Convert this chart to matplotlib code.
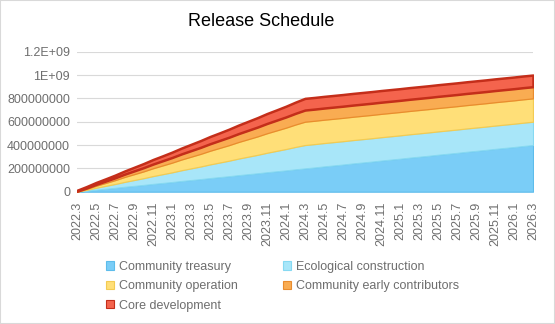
import matplotlib
matplotlib.use("Agg")
import matplotlib.pyplot as plt
from matplotlib.patches import Rectangle, Patch

plt.rcParams["font.family"] = ["Liberation Sans", "DejaVu Sans"]

# Monthly release timeline
months = [
    "2022.3", "2022.4", "2022.5", "2022.6", "2022.7", "2022.8", "2022.9", "2022.10", "2022.11", "2022.12",
    "2023.1", "2023.2", "2023.3", "2023.4", "2023.5", "2023.6", "2023.7", "2023.8", "2023.9", "2023.10",
    "2023.11", "2023.12",
    "2024.1", "2024.2", "2024.3", "2024.4", "2024.5", "2024.6", "2024.7", "2024.8", "2024.9", "2024.10",
    "2024.11", "2024.12",
    "2025.1", "2025.2", "2025.3", "2025.4", "2025.5", "2025.6", "2025.7", "2025.8", "2025.9", "2025.10",
    "2025.11", "2025.12",
    "2026.1", "2026.2", "2026.3",
]

# Cumulative released tokens per allocation, in millions
community_treasury = [
    0, 8, 17, 25, 33, 42, 50, 58, 67, 75, 83, 92, 100, 108, 117, 125, 133, 142, 150, 158,
    167, 175, 183, 192, 200, 208, 217, 225, 233, 242, 250, 258, 267, 275, 283, 292, 300,
    308, 317, 325, 333, 342, 350, 358, 367, 375, 383, 392, 400,
]
ecological_construction = [
    0, 8, 17, 25, 33, 42, 50, 58, 67, 75, 83, 92, 100, 108, 117, 125, 133, 142, 150, 158,
    167, 175, 183, 192, 200, 200, 200, 200, 200, 200, 200, 200, 200, 200, 200, 200, 200,
    200, 200, 200, 200, 200, 200, 200, 200, 200, 200, 200, 200,
]
community_operation = [
    0, 8, 17, 25, 33, 42, 50, 58, 67, 75, 83, 92, 100, 108, 117, 125, 133, 142, 150, 158,
    167, 175, 183, 192, 200, 200, 200, 200, 200, 200, 200, 200, 200, 200, 200, 200, 200,
    200, 200, 200, 200, 200, 200, 200, 200, 200, 200, 200, 200,
]
early_contributors = [
    4, 8, 12, 16, 20, 24, 28, 32, 36, 40, 44, 48, 52, 56, 60, 64, 68, 72, 76, 80,
    84, 88, 92, 96, 100, 100, 100, 100, 100, 100, 100, 100, 100, 100, 100, 100, 100,
    100, 100, 100, 100, 100, 100, 100, 100, 100, 100, 100, 100,
]
core_development = [
    8, 12, 16, 19, 23, 27, 31, 35, 39, 42, 46, 50, 54, 58, 62, 65, 69, 73, 77, 81,
    85, 88, 92, 96, 100, 100, 100, 100, 100, 100, 100, 100, 100, 100, 100, 100, 100,
    100, 100, 100, 100, 100, 100, 100, 100, 100, 100, 100, 100,
]

series_names = [
    "Community treasury",
    "Ecological construction",
    "Community operation",
    "Community early contributors",
    "Core development",
]
y_ticks = [0, 200e6, 400e6, 600e6, 800e6, 1000e6, 1200e6]
y_tick_labels = ["0", "200000000", "400000000", "600000000", "800000000", "1E+09", "1.2E+09"]

fill_colors = ["#7ACDF7", "#A8E6F9", "#FFDF78", "#F9AC52", "#F4644D"]
edge_colors = ["#5DBCEB", "#86D9F2", "#F3CB52", "#E98C2E", "#C42E1A"]
edge_widths = [0.8, 0.8, 0.9, 0.9, 1.8]

fig = plt.figure(figsize=(5.55, 3.24), dpi=100)
ax = fig.add_axes([77 / 555, 1 - 191.7 / 324, (533 - 77) / 555, (191.7 - 51.7) / 324])

x = list(range(len(months)))
data = [community_treasury, ecological_construction, community_operation,
        early_contributors, core_development]
values = [[v * 1e6 for v in s] for s in data]

polys = ax.stackplot(x, *values, colors=fill_colors, labels=series_names, zorder=3)
for p, ec, lw in zip(polys, edge_colors, edge_widths):
    p.set_edgecolor(ec)
    p.set_linewidth(lw)
    p.set_joinstyle("round")

ax.set_xlim(0, len(months) - 1)
ax.set_ylim(0, 1.2e9)
ax.set_yticks(y_ticks)
ax.set_yticklabels(y_tick_labels)
ax.set_xticks(x[::2])
ax.set_xticklabels(months[::2], rotation=90)
ax.tick_params(axis="both", length=0, colors="#6E6E6E", labelsize=9)
ax.tick_params(axis="y", pad=5)
ax.tick_params(axis="x", pad=7)
ax.grid(axis="y", color="#D9D9D9", linewidth=0.8, zorder=0)
ax.set_axisbelow(True)
for s in ax.spines.values():
    s.set_visible(False)

fig.text(261 / 555, 1 - 22 / 324, "Release Schedule", ha="center", va="center",
         fontsize=13, color="#000000")

handles = [Patch(facecolor=f, edgecolor=e, linewidth=0.8) for f, e in zip(fill_colors, edge_colors)]
order = [0, 2, 4, 1, 3]
leg = fig.legend([handles[i] for i in order], [series_names[i] for i in order],
                 ncol=2, loc="upper left", bbox_to_anchor=(106 / 555, 1 - 261 / 324),
                 frameon=False, fontsize=9, handlelength=0.65, handleheight=0.65,
                 handletextpad=0.4, columnspacing=3.6, labelspacing=0.58,
                 borderaxespad=0, borderpad=0)
for t in leg.get_texts():
    t.set_color("#6E6E6E")

fig.patches.append(Rectangle((0, 0), 1, 1, transform=fig.transFigure, fill=False,
                             edgecolor="#D9D9D9", linewidth=1.5))

fig.savefig("out.png", dpi=100)
